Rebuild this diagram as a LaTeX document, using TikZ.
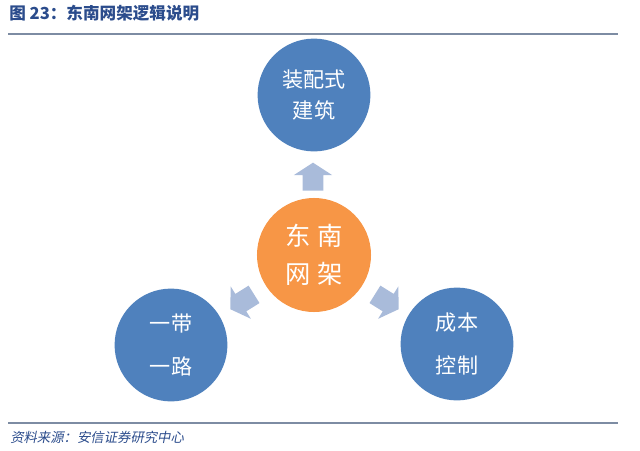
\documentclass[tikz,border=0pt]{standalone}
\usepackage{fontspec}
\newfontfamily\cjk{Noto Sans CJK SC}
\newfontfamily\cjkslant[FakeSlant=0.2]{Noto Sans CJK SC}
\usepackage{xcolor}
\usetikzlibrary{shapes.arrows}
\definecolor{circblue}{HTML}{4F81BD}
\definecolor{circorange}{HTML}{F79646}
\definecolor{arrowgray}{HTML}{A9BBDA}
\definecolor{titleblue}{HTML}{2B4C8C}
\definecolor{rulegray}{HTML}{7D8CA3}
\tikzset{
  hub/.style={circle, fill=circorange, minimum size=2.85cm, inner sep=0pt, align=center, text=white, font=\cjk\fontsize{18}{27}\selectfont},
  topic/.style={circle, fill=circblue, minimum size=2.82cm, inner sep=0pt, align=center, text=white, font=\cjk\fontsize{15}{30.5}\selectfont},
  pointer/.style={single arrow, fill=arrowgray, minimum height=0.7cm, inner xsep=0pt, inner ysep=0.25cm, single arrow head extend=0.22cm, single arrow tip angle=114},
  caption/.style={anchor=west, inner sep=0pt, font=\cjk}
}

\begin{document}
\begin{tikzpicture}[x=0.025cm, y=0.025cm]
  \useasboundingbox (0,0) rectangle (640,450);

  % header and footer
  \node[caption, text=titleblue, font=\cjk\bfseries\fontsize{11.8}{13}\selectfont] (title) at (9,437) {图 23：东南网架逻辑说明};
  \draw[rulegray, line width=0.8pt] (8,416) -- (618,416);
  \draw[rulegray, line width=0.8pt] (8,27) -- (618,27);
  \node[caption, text=titleblue, font=\cjkslant\fontsize{9.5}{11}\selectfont] (source) at (10,13) {资料来源：安信证券研究中心};

  % circles
  \node[hub] (center) at (314,195) {东\hspace{0.25em}南\\网\hspace{0.25em}架};
  \node[topic, font=\cjk\fontsize{15}{22.7}\selectfont] (build) at (314,355) {装配式\\建筑};
  \node[topic] (belt) at (171,105) {一带\\一路};
  \node[topic] (cost) at (457,106) {成本\\控制};

  % block arrows
  \node[pointer, rotate=90] (arrUp) at (313,270) {};
  \node[pointer, rotate=212] (arrLeft) at (245,150) {};
  \node[pointer, rotate=-32] (arrRight) at (384,150) {};
\end{tikzpicture}
\end{document}
